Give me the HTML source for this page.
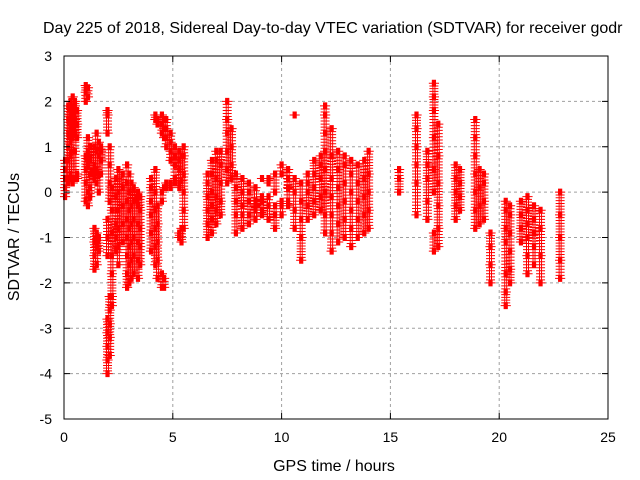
<!DOCTYPE html>
<html><head><meta charset="utf-8"><style>
html,body{margin:0;padding:0;background:#fff;}
svg{display:block;font-family:"Liberation Sans",sans-serif;}
</style></head><body>
<svg id="chart" width="640" height="480">
<text x="43" y="33" font-size="16" fill="#000">Day 225 of 2018, Sidereal Day-to-day VTEC variation (SDTVAR) for receiver godr</text>
<g id="grid"></g>
<g id="marks"></g>
<rect x="64" y="56" width="544" height="363" fill="none" stroke="#000" stroke-width="1"/>
<g id="ticks"></g>
<text x="334" y="471" font-size="16" text-anchor="middle">GPS time / hours</text>
<text x="0" y="0" font-size="16" text-anchor="middle" transform="translate(19,237) rotate(-90)">SDTVAR / TECUs</text>
</svg>
<script>
const xTicks=[0,5,10,15,20,25];
const yTicks=[-5,-4,-3,-2,-1,0,1,2,3];
const streakX=[0.05,0.2,0.3,0.4,0.5,0.6,1.0,1.1,1.2,1.4,1.5,1.6,1.7,2.0,2.1,2.2,2.4,2.5,2.7,2.9,3.0,3.1,3.2,3.4,3.5,4.0,4.2,4.3,4.5,4.6,4.7,4.9,5.1,5.3,5.4,5.5,6.6,6.8,7.0,7.2,7.5,7.7,7.9,8.2,8.5,8.8,9.1,9.4,9.7,10.0,10.3,10.6,10.9,11.2,11.5,11.8,12.0,12.3,12.6,12.9,13.2,13.5,13.8,14.0,15.4,16.2,16.7,17.0,17.2,18.0,18.2,18.9,19.1,19.3,19.6,20.3,20.5,21.0,21.3,21.6,21.9,22.8];
const streakY=[
[-0.1,0.1,0.3,0.5,0.7],
[0.3,0.7,1.0,1.3,1.6,1.9,0.2],
[0.4,0.8,1.1,1.4,1.7,2.0,0.3],
[0.3,1.2,1.5,1.8,2.1,0.2],
[0.3,0.9,1.3,1.6,1.9,2.0],
[0.3,0.4,1.2,1.5,1.8],
[2.0,2.2,2.35,0.8,0.5,0.2,-0.2],
[0.6,0.9,1.2,0.0,-0.3,2.3,2.1],
[1.0,0.7,0.4,0.1,-0.1],
[-1.7,-1.4,-1.1,-0.8,0.3,0.6,1.0],
[-1.6,-1.2,-0.9,0.2,0.5,0.9,1.3],
[-1.3,-1.0,0.0,0.4,0.8,1.1],
[0.7,0.9,1.0,0.4],
[-4.0,-3.7,-3.4,-3.1,-2.8,-1.4,-1.0,-0.6,1.3,1.7,1.8],
[-3.6,-3.2,-2.9,-2.6,-2.3,-0.2,0.2,0.6,1.0],
[-2.5,-2.3,-1.8,-1.4,-0.9,-0.4,0.1],
[-1.3,-1.0,-0.7,-0.4,-0.1,0.3],
[-1.6,-1.2,-0.8,-0.4,0.0,0.5],
[-1.1,-0.7,-0.3,0.1,0.4],
[-2.1,-1.8,-1.4,-1.0,-0.6,-0.2,0.2,0.6],
[-2.0,-1.6,-1.2,-0.8,-0.4,0.0,0.4],
[-1.9,-1.5,-1.1,-0.7,-0.3,0.2],
[-1.8,-1.4,-1.0,-0.6,-0.2,0.1],
[-1.9,-1.5,-1.1,-0.7,-0.3,0.0],
[-1.6,-1.2,-0.8,-0.4,-0.1],
[-1.3,-0.9,-0.5,-0.2,0.1,0.3],
[-1.6,-1.2,-0.8,-0.4,0.0,0.5,1.6,1.7],
[-1.9,-1.5,-1.1,-0.7,-0.3,1.5,1.6],
[-2.1,-1.8,-0.2,0.0,1.7,1.5,1.3],
[-2.1,-1.9,0.1,1.6,1.4,1.2],
[0.1,0.2,1.6,1.4,1.2,1.0],
[0.1,0.2,1.3,1.1,0.9,0.7],
[0.2,0.3,1.0,0.8,0.6],
[-1.0,-0.9,0.1,0.2,0.5,0.7,0.9],
[-1.1,-0.8,0.25,0.8],
[-0.8,-0.4,0.0,0.4,0.8,1.0],
[-1.0,-0.7,-0.4,-0.1,0.2,0.4],
[-0.9,-0.6,-0.3,0.0,0.4,0.7],
[-0.7,-0.4,-0.1,0.3,0.7,0.9],
[-0.5,-0.2,0.2,0.6,0.9],
[0.2,0.5,0.9,1.3,1.6,2.0],
[0.3,0.6,1.0,1.4],
[-0.9,-0.5,-0.2,0.1,0.4],
[-0.8,-0.5,-0.3,0.0,0.3],
[-0.7,-0.5,-0.2,0.0,0.2],
[-0.4,-0.3,-0.2,-0.6,0.1],
[-0.2,-0.1,-0.4,-0.5,0.3],
[-0.1,-0.3,-0.6,0.2,0.3],
[-0.3,-0.5,-0.8,0.0,0.4],
[-0.2,-0.3,-0.5,0.6,0.4],
[-0.3,-0.2,0.5,0.3,0.1],
[-0.8,-0.4,0.0,0.3,1.7],
[-1.5,-1.0,-0.6,-0.2,0.2],
[-0.6,-0.3,0.0,0.2,0.4],
[-0.5,-0.2,0.1,0.4,0.7],
[-0.4,-0.1,0.3,0.6,0.8],
[-0.9,-0.5,0.0,0.5,0.9,1.3,1.7,1.9],
[-1.3,-0.9,-0.5,-0.1,0.3,0.8,1.4],
[-1.1,-0.7,-0.3,0.1,0.5,0.9],
[-1.0,-0.6,-0.2,0.2,0.6,0.8],
[-1.2,-0.8,-0.4,0.0,0.4,0.7],
[-1.0,-0.6,-0.2,0.2,0.6],
[-0.9,-0.5,-0.1,0.3,0.7],
[-0.8,-0.4,0.0,0.4,0.9],
[0.0,0.3,0.5],
[-0.5,0.2,0.6,1.0,1.4,1.7],
[-0.6,-0.2,0.3,0.6,0.9],
[-1.3,-0.9,0.0,0.5,1.2,1.8,2.1,2.4],
[-1.2,-0.8,-0.3,0.2,0.8,1.5],
[-0.6,-0.3,0.0,0.3,0.6],
[-0.4,-0.1,0.2,0.5],
[-0.8,-0.4,0.0,0.4,0.8,1.2,1.6],
[-0.7,-0.3,0.1,0.5],
[-0.6,-0.2,0.2,0.4],
[-2.0,-1.6,-1.2,-0.9],
[-2.5,-2.2,-1.8,-1.1,-0.8,-0.4,-0.2],
[-2.0,-1.7,-1.3,-0.9,-0.5,-0.3],
[-1.1,-0.8,-0.5,-0.2],
[-1.8,-1.4,-1.0,-0.7,-0.4,-0.1],
[-1.6,-1.2,-0.9,-0.6,-0.3],
[-2.0,-1.4,-0.8,-0.4],
[-1.9,-1.5,-1.0,-0.5,0.0]
];
const X0=64,X1=608,Y0=419,Y1=56;
function xs(v){return X0+(v-0)/(25-0)*(X1-X0);}
function ys(v){return Y0-(v+5)/(3+5)*(Y0-Y1);}
const NS="http://www.w3.org/2000/svg";
const grid=document.getElementById('grid'),ticks=document.getElementById('ticks'),marks=document.getElementById('marks');
function mk(tag,attrs,parent){const e=document.createElementNS(NS,tag);for(const k in attrs)e.setAttribute(k,attrs[k]);parent.appendChild(e);return e;}
xTicks.forEach(t=>{const x=xs(t);
 if(t>0&&t<25){const g=mk('line',{x1:x,x2:x,y1:Y1,y2:Y0,stroke:'#a0a0a0','stroke-dasharray':'3,3'},grid);
 
 }
 mk('line',{x1:x,x2:x,y1:Y0,y2:Y0-6,stroke:'#000'},ticks);
 mk('line',{x1:x,x2:x,y1:Y1,y2:Y1+6,stroke:'#000'},ticks);
 const l=mk('text',{x:x,y:442,'font-size':14,'text-anchor':'middle'},ticks);l.textContent=t;
 
 });
yTicks.forEach(t=>{const y=ys(t);
 if(t>-5&&t<3){const g=mk('line',{x1:X0,x2:X1,y1:y,y2:y,stroke:'#a0a0a0','stroke-dasharray':'3,3'},grid);
 
 }
 mk('line',{x1:X0,x2:X0+6,y1:y,y2:y,stroke:'#000'},ticks);
 mk('line',{x1:X1,x2:X1-6,y1:y,y2:y,stroke:'#000'},ticks);
 const l=mk('text',{x:52,y:y+5,'font-size':14,'text-anchor':'end'},ticks);l.textContent=t;
 
 });
let d='';
function plus(cx,cy){d+=`M${cx-3.5},${cy}h7M${cx},${cy-3.5}v7`;}
streakX.forEach((sx,i)=>{const ysList=streakY[i]||[];
 const cx=xs(sx);
 ysList.forEach(v=>{const cy=ys(v);
  for(let k=-2;k<=2;k++)plus(cx+k*0.8,cy);});
 for(let j=0;j<ysList.length-1;j++){const a=ysList[j],b=ysList[j+1];
  if(Math.abs(a-b)<0.75){const n=Math.ceil(Math.abs(a-b)/0.07);
   for(let s=1;s<n;s++){const cy=ys(a+(b-a)*s/n);plus(cx-1,cy);plus(cx+1,cy);}}}
});
const p=mk('path',{d:d,stroke:'#ff0000','stroke-width':1,fill:'none'},marks);


</script>
</body></html>
